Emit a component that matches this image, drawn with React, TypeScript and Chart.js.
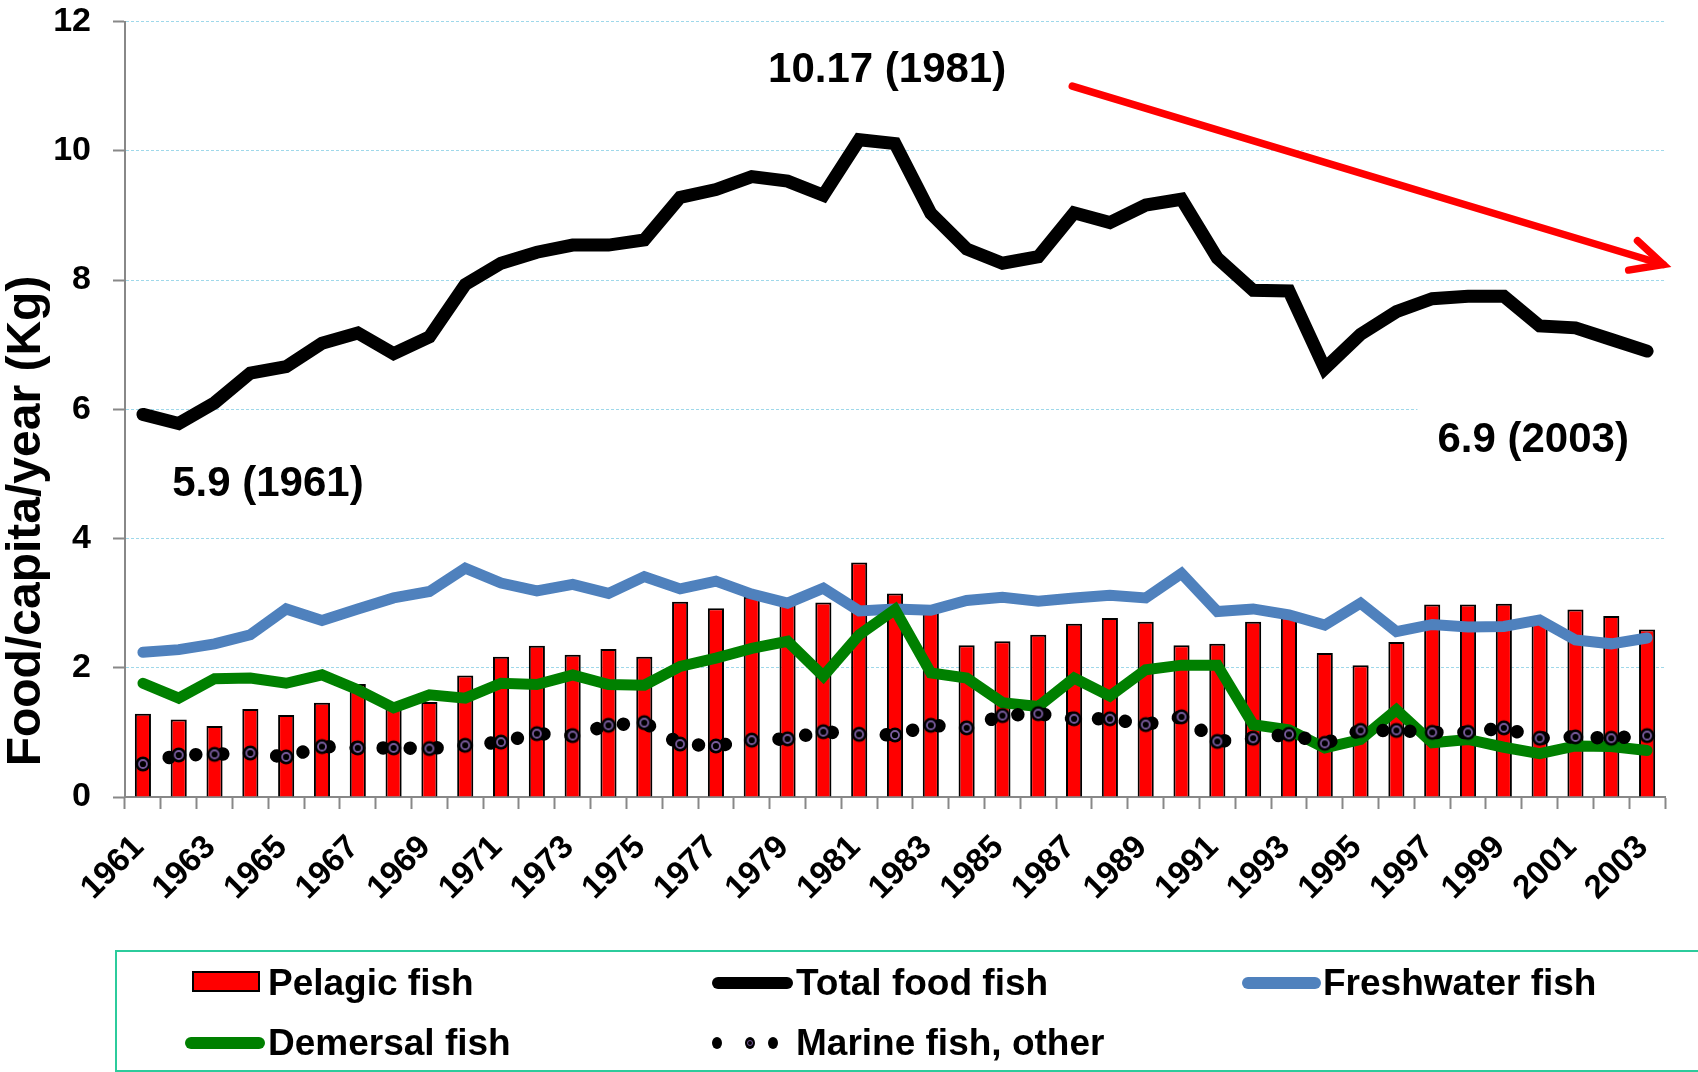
import React, { useEffect, useRef } from 'react';
import { Chart, registerables } from 'chart.js';

Chart.register(...registerables);

const FONT = '"Liberation Sans", Arial, Helvetica, sans-serif';

// ---------- data ----------
const years = [
  '1961', '1962', '1963', '1964', '1965', '1966', '1967', '1968', '1969', '1970',
  '1971', '1972', '1973', '1974', '1975', '1976', '1977', '1978', '1979', '1980',
  '1981', '1982', '1983', '1984', '1985', '1986', '1987', '1988', '1989', '1990',
  '1991', '1992', '1993', '1994', '1995', '1996', '1997', '1998', '1999', '2000',
  '2001', '2002', '2003',
];

const pelagicFish = [
  1.29, 1.2, 1.1, 1.36, 1.27, 1.46, 1.75, 1.38, 1.47, 1.88,
  2.17, 2.34, 2.2, 2.29, 2.17, 3.02, 2.92, 3.1, 3.0, 3.01,
  3.63, 3.15, 2.9, 2.35, 2.41, 2.51, 2.68, 2.77, 2.71, 2.35,
  2.37, 2.71, 2.78, 2.23, 2.04, 2.4, 2.98, 2.98, 2.99, 2.76,
  2.9, 2.8, 2.59,
];

const totalFoodFish = [
  5.92, 5.78, 6.1, 6.56, 6.66, 7.02, 7.18, 6.86, 7.12, 7.93,
  8.26, 8.43, 8.54, 8.54, 8.62, 9.28, 9.4, 9.6, 9.53, 9.31,
  10.17, 10.11, 9.03, 8.48, 8.26, 8.36, 9.04, 8.89, 9.16, 9.25,
  8.34, 7.84, 7.83, 6.63, 7.16, 7.51, 7.71, 7.75, 7.75, 7.29,
  7.26, 7.08, 6.9,
];

const freshwaterFish = [
  2.24, 2.28, 2.37, 2.51, 2.91, 2.73, 2.91, 3.08, 3.18, 3.54,
  3.31, 3.19, 3.29, 3.15, 3.41, 3.22, 3.34, 3.14, 3.0, 3.23,
  2.88, 2.91, 2.89, 3.04, 3.09, 3.03, 3.08, 3.12, 3.08, 3.46,
  2.87, 2.91, 2.82, 2.66, 3.0, 2.56, 2.67, 2.63, 2.64, 2.74,
  2.43, 2.37, 2.46,
];

const demersalFish = [
  1.76, 1.53, 1.83, 1.84, 1.76, 1.89, 1.66, 1.38, 1.58, 1.53,
  1.76, 1.74, 1.89, 1.74, 1.73, 2.02, 2.15, 2.3, 2.41, 1.87,
  2.51, 2.9, 1.92, 1.84, 1.46, 1.4, 1.84, 1.56, 1.97, 2.04,
  2.04, 1.12, 1.04, 0.76, 0.89, 1.35, 0.84, 0.89, 0.77, 0.67,
  0.79, 0.78, 0.72,
];

const marineFishOther = [
  0.51, 0.65, 0.66, 0.68, 0.62, 0.78, 0.76, 0.76, 0.75, 0.8,
  0.85, 0.98, 0.95, 1.11, 1.15, 0.82, 0.79, 0.88, 0.9, 1.01,
  0.97, 0.96, 1.11, 1.07, 1.26, 1.29, 1.21, 1.21, 1.12, 1.24,
  0.86, 0.91, 0.97, 0.83, 1.03, 1.03, 1.0, 1.0, 1.07, 0.91,
  0.93, 0.91, 0.95,
];

const yTicks = [0, 2, 4, 6, 8, 10, 12];
const yTitle = 'Food/capita/year (Kg)';

const seriesLabels = ['Pelagic fish', 'Total food fish', 'Freshwater fish', 'Demersal fish', 'Marine fish, other'];

// annotation texts, anchored in data units (fractional category index, value)
const annotationTexts = ['10.17 (1981)', '5.9 (1961)', '6.9 (2003)'];
const annotationX = [20.78, 3.49, 38.82];
const annotationY = [11.24, 4.84, 5.51];
const annotationBoxed = [false, false, true];

// trend arrow in data units
const arrowX = [25.95, 42.45];
const arrowY = [11.0, 8.24];

// ---------- styles ----------
const RED = '#FF0000';
const BLUE = '#4F81BD';
const GREEN = '#008000';
const GRID = '#9FD8EA';
const AXIS = '#888888';

function makeMarker(): HTMLCanvasElement {
  const c = document.createElement('canvas');
  c.width = 18;
  c.height = 18;
  const g = c.getContext('2d')!;
  g.fillStyle = '#000';
  g.beginPath();
  g.arc(9, 9, 7.5, 0, Math.PI * 2);
  g.fill();
  g.strokeStyle = '#7A5C9E';
  g.lineWidth = 1.8;
  g.beginPath();
  g.arc(9, 9, 4, 0, Math.PI * 2);
  g.stroke();
  return c;
}

const annotationPlugin = {
  id: 'fishAnnotations',
  beforeDatasetsDraw(chart: any) {
    const { ctx, chartArea, scales } = chart;
    const x = scales.x;
    const y = scales.y;
    ctx.save();
    ctx.font = `bold 42px ${FONT}`;
    annotationTexts.forEach((t, i) => {
      if (!annotationBoxed[i]) return;
      const cx = x.getPixelForValue(annotationX[i]);
      const cy = y.getPixelForValue(annotationY[i]);
      const w = ctx.measureText(t).width;
      const left = cx - w / 2 - 20;
      ctx.fillStyle = '#fff';
      ctx.fillRect(left, cy - 38, chartArea.right - left + 2, 72);
    });
    ctx.restore();
  },
  afterDatasetsDraw(chart: any) {
    const { ctx, scales } = chart;
    const x = scales.x;
    const y = scales.y;
    ctx.save();
    // arrow
    const x0 = x.getPixelForValue(arrowX[0]);
    const y0 = y.getPixelForValue(arrowY[0]);
    const x1 = x.getPixelForValue(arrowX[1]);
    const y1 = y.getPixelForValue(arrowY[1]);
    ctx.strokeStyle = RED;
    ctx.lineWidth = 7.5;
    ctx.lineCap = 'round';
    ctx.lineJoin = 'miter';
    ctx.beginPath();
    ctx.moveTo(x0, y0);
    ctx.lineTo(x1, y1);
    ctx.stroke();
    const ang = Math.atan2(y1 - y0, x1 - x0);
    const back = ang + Math.PI;
    const wl = 35;
    const spread = (26 * Math.PI) / 180;
    ctx.beginPath();
    ctx.moveTo(x1 + Math.cos(back - spread) * wl, y1 + Math.sin(back - spread) * wl);
    ctx.lineTo(x1, y1);
    ctx.lineTo(x1 + Math.cos(back + spread) * wl, y1 + Math.sin(back + spread) * wl);
    ctx.stroke();

    // texts
    ctx.fillStyle = '#000';
    ctx.font = `bold 42px ${FONT}`;
    ctx.textAlign = 'center';
    ctx.textBaseline = 'middle';
    annotationTexts.forEach((t, i) => {
      ctx.fillText(t, x.getPixelForValue(annotationX[i]), y.getPixelForValue(annotationY[i]));
    });

    // y title
    ctx.translate(27, 521);
    ctx.rotate(-Math.PI / 2);
    ctx.font = `bold 48px ${FONT}`;
    ctx.fillText(yTitle, 0, 0);
    ctx.restore();
  },
};

export default function App() {
  const ref = useRef<HTMLCanvasElement>(null);

  useEffect(() => {
    document.body.style.margin = '0';
    Chart.defaults.font.family = FONT;
    Chart.defaults.color = '#000';
    const marker = makeMarker();

    const chart = new Chart(ref.current!, {
      type: 'bar',
      data: {
        labels: years,
        datasets: [
          {
            type: 'line',
            label: seriesLabels[4],
            data: marineFishOther,
            borderColor: '#000',
            borderWidth: 13.5,
            borderDash: [0.01, 27],
            borderCapStyle: 'round',
            pointStyle: marker as any,
            pointRadius: 8,
            pointHoverRadius: 8,
            tension: 0,
            order: 1,
          } as any,
          {
            type: 'line',
            label: seriesLabels[3],
            data: demersalFish,
            borderColor: GREEN,
            backgroundColor: GREEN,
            borderWidth: 11,
            borderCapStyle: 'round',
            pointRadius: 0,
            tension: 0,
            order: 2,
          },
          {
            type: 'line',
            label: seriesLabels[2],
            data: freshwaterFish,
            borderColor: BLUE,
            backgroundColor: BLUE,
            borderWidth: 11,
            borderCapStyle: 'round',
            pointRadius: 0,
            tension: 0,
            order: 3,
          },
          {
            type: 'line',
            label: seriesLabels[1],
            data: totalFoodFish,
            borderColor: '#000',
            backgroundColor: '#000',
            borderWidth: 13,
            borderCapStyle: 'round',
            pointRadius: 0,
            tension: 0,
            order: 4,
          },
          {
            type: 'bar',
            label: seriesLabels[0],
            data: pelagicFish,
            backgroundColor: RED,
            borderColor: '#000',
            borderWidth: 2,
            barPercentage: 0.45,
            categoryPercentage: 1.0,
            order: 5,
          },
        ],
      },
      options: {
        animation: false,
        responsive: false,
        maintainAspectRatio: false,
        events: [],
        layout: { padding: { left: 0, right: 33, top: 19, bottom: 0 } },
        plugins: {
          legend: { display: false },
          tooltip: { enabled: false },
        },
        scales: {
          x: {
            type: 'category',
            offset: true,
            grid: {
              display: true,
              drawOnChartArea: false,
              drawTicks: true,
              tickLength: 12,
              tickColor: AXIS,
              tickWidth: 2,
              offset: true,
            },
            border: { display: true, color: AXIS, width: 2 },
            ticks: {
              autoSkip: false,
              maxRotation: 45,
              minRotation: 45,
              padding: 19,
              labelOffset: -4,
              color: '#000',
              font: { size: 33, weight: 'bold', family: FONT },
              callback: (_v: any, i: number) => (i % 2 === 0 ? years[i] : ''),
            },
            afterFit: (s: any) => {
              s.height = 275;
              s.paddingLeft = 0;
              s.paddingRight = 0;
            },
          },
          y: {
            min: 0,
            max: 12,
            afterBuildTicks: (s: any) => {
              s.ticks = yTicks.map((v) => ({ value: v }));
            },
            grid: {
              color: GRID,
              lineWidth: 1,
              drawTicks: true,
              tickLength: 12,
              tickColor: AXIS,
              tickWidth: 2,
              tickBorderDash: [1, 0],
            },
            border: { display: true, color: AXIS, width: 2, dash: [3, 2] },
            ticks: {
              padding: 22,
              color: '#000',
              font: { size: 34, weight: 'bold', family: FONT },
            },
            afterFit: (s: any) => {
              s.width = 125;
              s.paddingTop = 0;
              s.paddingBottom = 0;
            },
          },
        },
      } as any,
      plugins: [annotationPlugin],
    });
    return () => chart.destroy();
  }, []);

  const textStyle = (left: number, cy: number): React.CSSProperties => ({
    position: 'absolute',
    left,
    top: cy - 22,
    height: 44,
    lineHeight: '44px',
    fontFamily: FONT,
    fontWeight: 'bold',
    fontSize: 37,
    color: '#000',
    whiteSpace: 'nowrap',
  });
  const lineSwatch = (left: number, width: number, cy: number, color: string): React.CSSProperties => ({
    position: 'absolute',
    left,
    top: cy - 6,
    width,
    height: 12,
    borderRadius: 6,
    background: color,
  });
  const dot = (cx: number, cy: number): React.CSSProperties => ({
    position: 'absolute',
    left: cx - 5,
    top: cy - 6,
    width: 10,
    height: 12,
    borderRadius: '50%',
    background: '#000',
  });

  return (
    <div style={{ position: 'relative', width: 1698, height: 1072, overflow: 'hidden', background: '#fff' }}>
      <canvas ref={ref} width={1698} height={1072} style={{ position: 'absolute', left: 0, top: 0, width: 1698, height: 1072 }} />
      <div
        style={{
          position: 'absolute',
          left: 115,
          top: 950,
          width: 1640,
          height: 122,
          border: '2px solid #2CCB9C',
          boxSizing: 'border-box',
        }}
      />
      {/* row 1 */}
      <div
        style={{
          position: 'absolute',
          left: 192,
          top: 971,
          width: 68,
          height: 21,
          background: RED,
          border: '2px solid #000',
          boxSizing: 'border-box',
        }}
      />
      <div style={textStyle(268, 983)}>{seriesLabels[0]}</div>
      <div style={lineSwatch(712, 81, 983, '#000')} />
      <div style={textStyle(796, 983)}>{seriesLabels[1]}</div>
      <div style={lineSwatch(1242, 79, 983, BLUE)} />
      <div style={textStyle(1323, 983)}>{seriesLabels[2]}</div>
      {/* row 2 */}
      <div style={lineSwatch(185, 80, 1043, GREEN)} />
      <div style={textStyle(268, 1043)}>{seriesLabels[3]}</div>
      <div style={dot(717, 1043)} />
      <div style={dot(750, 1043)}>
        <div
          style={{
            position: 'absolute',
            left: 2,
            top: 3,
            width: 6,
            height: 6,
            boxSizing: 'border-box',
            borderRadius: '50%',
            border: '1.5px solid #7A5C9E',
          }}
        />
      </div>
      <div style={dot(773, 1043)} />
      <div style={textStyle(796, 1043)}>{seriesLabels[4]}</div>
    </div>
  );
}
